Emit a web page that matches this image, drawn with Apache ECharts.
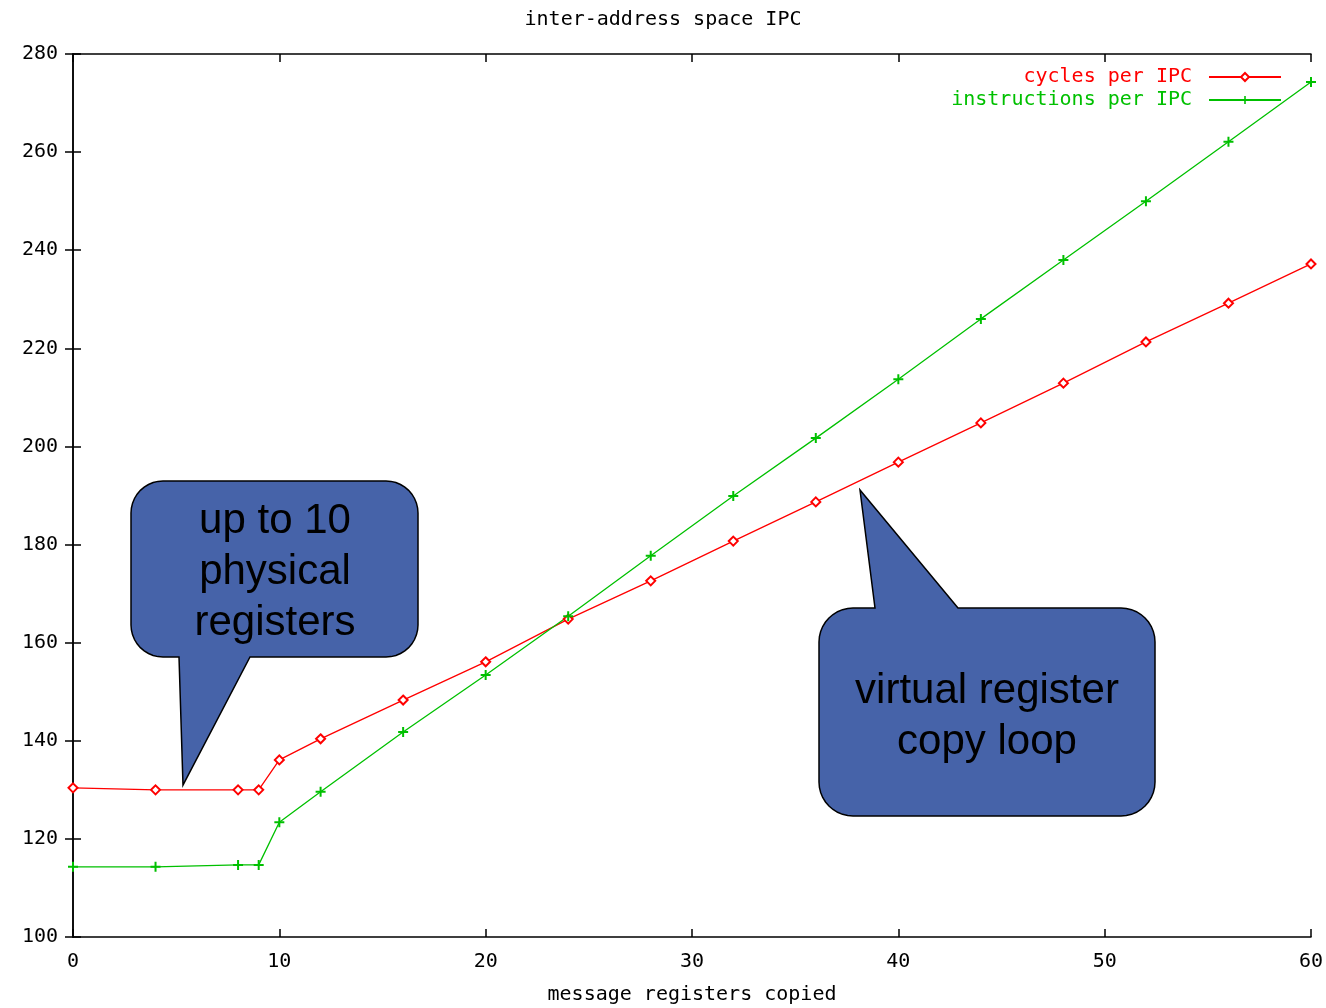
<!DOCTYPE html>
<html>
<head>
<meta charset="utf-8">
<script src="https://cdn.jsdelivr.net/npm/echarts@6/dist/echarts.min.js"></script>
<style>
html,body{margin:0;padding:0;background:#fff;}
#chart{width:1326px;height:1008px;}
</style>
</head>
<body>
<div id="chart"></div>
<script>
// ---- data ----
const registersCopied = [0, 4, 8, 9, 10, 12, 16, 20, 24, 28, 32, 36, 40, 44, 48, 52, 56, 60];
const cyclesPerIPC = [130.4, 130.0, 130.0, 130.0, 136.1, 140.4, 148.3, 156.1, 164.8, 172.6, 180.7, 188.7, 196.8, 204.8, 212.9, 221.3, 229.2, 237.2];
const instructionsPerIPC = [114.3, 114.3, 114.7, 114.7, 123.4, 129.6, 141.8, 153.4, 165.4, 177.7, 189.9, 201.7, 213.7, 226.0, 238.0, 250.0, 262.1, 274.3];
const seriesNames = ['cycles per IPC', 'instructions per IPC'];
const titleText = 'inter-address space IPC';
const xAxisName = 'message registers copied';
const callout1Text = 'up to 10\nphysical\nregisters';
const callout2Text = 'virtual register\ncopy loop';

const mono = '"DejaVu Sans Mono", "Liberation Mono", monospace';
const RED = '#ff0000';
const GREEN = '#00c000';
const plusPath = 'path://M4,0H6V4H10V6H6V10H4V6H0V4H4Z';

const pairs = (xs, ys) => xs.map((x, i) => [x, ys[i]]);

// rounded box with a pointer (on top or bottom edge) as polygon points
function calloutPoints(box, r, ptr) {
  const [x0, y0, x1, y1] = box;
  const pts = [];
  const arc = (cx, cy, a0, a1) => {
    const n = 10;
    for (let i = 0; i <= n; i++) {
      const a = a0 + (a1 - a0) * i / n;
      pts.push([cx + r * Math.cos(a), cy + r * Math.sin(a)]);
    }
  };
  const P = Math.PI;
  arc(x0 + r, y0 + r, P, 1.5 * P);
  if (ptr.side === 'top') {
    pts.push([ptr.a, y0], ptr.tip, [ptr.b, y0]);
  }
  arc(x1 - r, y0 + r, 1.5 * P, 2 * P);
  arc(x1 - r, y1 - r, 0, 0.5 * P);
  if (ptr.side === 'bottom') {
    pts.push([ptr.b, y1], ptr.tip, [ptr.a, y1]);
  }
  arc(x0 + r, y1 - r, 0.5 * P, P);
  return pts;
}

const chart = echarts.init(document.getElementById('chart'), null, {renderer: 'canvas'});

const axisLineStyle = {show: true, lineStyle: {color: '#000', width: 1.5}};
const tickStyle = {show: true, inside: true, length: 8, lineStyle: {color: '#000', width: 1.5}};
const labelStyle = {fontFamily: mono, fontSize: 20, color: '#000'};

const option = {
  animation: false,
  backgroundColor: '#fff',
  title: {
    text: titleText,
    left: 'center',
    top: 5,
    textStyle: {fontFamily: mono, fontSize: 20, fontWeight: 'normal', color: '#000'}
  },
  legend: {
    orient: 'vertical',
    right: 44,
    top: 67,
    padding: 0,
    align: 'right',
    itemWidth: 72,
    itemHeight: 10,
    itemGap: 3,
    textStyle: {fontFamily: mono, fontSize: 20, padding: [0, 12, 0, 0]},
    data: [
      {name: seriesNames[0], textStyle: {color: RED}},
      {name: seriesNames[1], textStyle: {color: GREEN}}
    ]
  },
  grid: {left: 73, right: 15, top: 54, bottom: 71, containLabel: false, outerBoundsMode: 'none'},
  xAxis: [
    {
      type: 'value', position: 'bottom', min: 0, max: 60, interval: 10,
      axisLine: axisLineStyle, axisTick: tickStyle,
      axisLabel: Object.assign({margin: 15}, labelStyle),
      splitLine: {show: false},
      name: xAxisName, nameLocation: 'middle', nameGap: 48,
      nameTextStyle: {fontFamily: mono, fontSize: 20, color: '#000'}
    },
    {
      type: 'value', position: 'top', min: 0, max: 60, interval: 10,
      axisLine: axisLineStyle, axisTick: tickStyle,
      axisLabel: {show: false}, splitLine: {show: false}
    }
  ],
  yAxis: [
    {
      type: 'value', position: 'left', min: 100, max: 280, interval: 20,
      axisLine: axisLineStyle, axisTick: tickStyle,
      axisLabel: Object.assign({margin: 15}, labelStyle),
      splitLine: {show: false}
    },
    {
      type: 'value', position: 'right', min: 100, max: 280, interval: 20,
      axisLine: axisLineStyle, axisTick: tickStyle,
      axisLabel: {show: false}, splitLine: {show: false}
    }
  ],
  series: [
    {
      name: seriesNames[0], type: 'line',
      data: pairs(registersCopied, cyclesPerIPC),
      symbol: 'emptyDiamond', symbolSize: 9, showAllSymbol: true,
      lineStyle: {color: RED, width: 1.3},
      itemStyle: {color: RED, borderWidth: 1.3},
      z: 3
    },
    {
      name: seriesNames[1], type: 'line',
      data: pairs(registersCopied, instructionsPerIPC),
      symbol: plusPath, symbolSize: 10, showAllSymbol: true,
      lineStyle: {color: GREEN, width: 1.3},
      itemStyle: {color: GREEN},
      z: 3
    }
  ],
  graphic: [
    {
      type: 'polygon', z: 100,
      shape: {points: calloutPoints([131, 481, 418, 657], 32, {side: 'bottom', a: 179, b: 250, tip: [183, 785]})},
      style: {fill: '#4663a9', stroke: '#000', lineWidth: 1.5}
    },
    {
      type: 'text', z: 101,
      style: {
        text: callout1Text, x: 275, y: 572,
        align: 'center', verticalAlign: 'middle',
        font: '42px "Liberation Sans", Arial, sans-serif', lineHeight: 51, fill: '#000'
      }
    },
    {
      type: 'polygon', z: 100,
      shape: {points: calloutPoints([819, 608, 1155, 816], 34, {side: 'top', a: 875, b: 958, tip: [860, 490]})},
      style: {fill: '#4663a9', stroke: '#000', lineWidth: 1.5}
    },
    {
      type: 'text', z: 101,
      style: {
        text: callout2Text, x: 987, y: 717,
        align: 'center', verticalAlign: 'middle',
        font: '42px "Liberation Sans", Arial, sans-serif', lineHeight: 51, fill: '#000'
      }
    }
  ]
};
chart.setOption(option);
</script>
</body>
</html>
